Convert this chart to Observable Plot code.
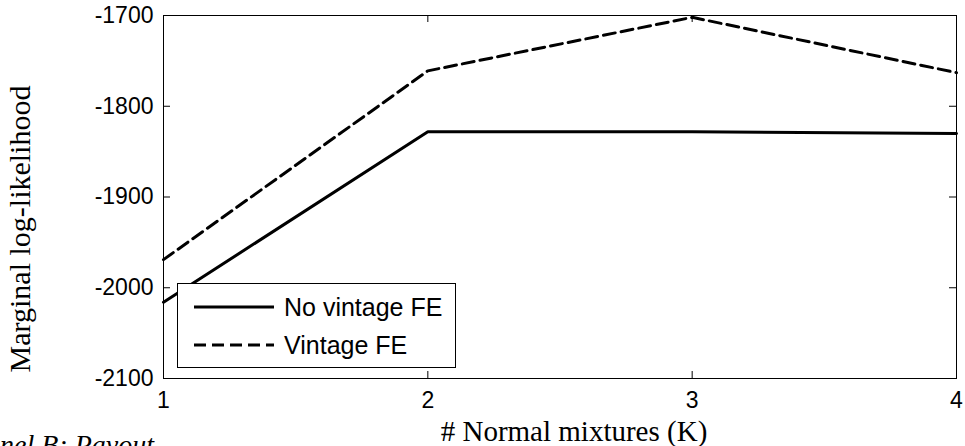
<!DOCTYPE html>
<html>
<head>
<meta charset="utf-8">
<script src="https://cdn.jsdelivr.net/npm/d3@7"></script>
<script src="https://cdn.jsdelivr.net/npm/@observablehq/plot@0.6"></script>
<style>
  html, body { margin: 0; padding: 0; background: white; }
  #wrap { position: relative; width: 965px; height: 446px; overflow: hidden; }
  #legend { position: absolute; left: 177px; top: 283px; width: 277px; height: 83px;
    border: 1.5px solid black; background: white; font-family: "Liberation Sans", Arial, sans-serif; font-size: 25px; }
  .row { position: absolute; left: 0; height: 30px; display: flex; align-items: center; }
  .row svg { margin-left: 16px; margin-right: 10px; }
  #caption { position: absolute; left: -31px; top: 429px; font-family: "Liberation Serif", "Times New Roman", serif;
    font-style: italic; font-size: 28px; white-space: nowrap; }
</style>
</head>
<body>
<div id="wrap"></div>
<script>
const mixturesK = [1, 2, 3, 4];
const noVintageFE = [-2016, -1828, -1828, -1830];
const vintageFE = [-1969, -1761, -1702, -1763];
const seriesNames = ["No vintage FE", "Vintage FE"];
const yTicks = [-2100, -2000, -1900, -1800, -1700];
const xTicks = [1, 2, 3, 4];

const data = [
  ...mixturesK.map((k, i) => ({k, v: noVintageFE[i], s: seriesNames[0]})),
  ...mixturesK.map((k, i) => ({k, v: vintageFE[i], s: seriesNames[1]}))
];

const W = 965, H = 446, mL = 163, mR = 9, mT = 15, mB = 68;
const pw = W - mL - mR, ph = H - mT - mB, tl = 7;
const dashPattern = "12,6";

const chart = Plot.plot({
  width: W, height: H,
  marginLeft: mL, marginRight: mR, marginTop: mT, marginBottom: mB,
  style: {fontFamily: "Liberation Sans, Arial, sans-serif", fontSize: "23px", color: "black", background: "white"},
  x: {domain: [1, 4]},
  y: {domain: [-2100, -1700]},
  marks: [
    Plot.axisY(yTicks, {tickSize: 0, tickPadding: 10, tickFormat: d => `${d}`, label: null, fontSize: 23}),
    Plot.axisX(xTicks, {tickSize: 0, tickPadding: 13, tickFormat: d => `${d}`, label: null, fontSize: 23}),
    Plot.ruleY(yTicks, {stroke: "black", insetRight: pw - tl}),
    Plot.ruleY(yTicks, {stroke: "black", insetLeft: pw - tl}),
    Plot.ruleX(xTicks, {stroke: "black", insetBottom: ph - tl}),
    Plot.ruleX(xTicks, {stroke: "black", insetTop: ph - tl}),
    Plot.line(data.filter(d => d.s === seriesNames[0]), {x: "k", y: "v", stroke: "black", strokeWidth: 3, strokeLinejoin: "miter"}),
    Plot.line(data.filter(d => d.s === seriesNames[1]), {x: "k", y: "v", stroke: "black", strokeWidth: 3, strokeDasharray: dashPattern, strokeLinejoin: "miter"}),
    Plot.frame({stroke: "black", strokeWidth: 1}),
    Plot.text(["Marginal log-likelihood"], {frameAnchor: "left", text: d => d, rotate: -90, dx: -143, dy: 32,
      textAnchor: "middle", lineAnchor: "middle",
      fontFamily: "Liberation Serif, Times New Roman, serif", fontSize: 30}),
    Plot.text(["# Normal mixtures (K)"], {frameAnchor: "bottom", text: d => d, dy: 53, dx: 14,
      textAnchor: "middle", lineAnchor: "middle",
      fontFamily: "Liberation Serif, Times New Roman, serif", fontSize: 29})
  ]
});
const wrap = document.getElementById("wrap");
wrap.appendChild(chart);

const legend = document.createElement("div");
legend.id = "legend";
const dashes = ["", dashPattern];
seriesNames.forEach((name, i) => {
  const row = document.createElement("div");
  row.className = "row";
  row.style.top = (8 + i * 38) + "px";
  row.innerHTML = `<svg width="80" height="10"><line x1="0" y1="5" x2="80" y2="5" stroke="black" stroke-width="3" ${dashes[i] ? `stroke-dasharray="${dashes[i]}"` : ""}/></svg><span>${name}</span>`;
  legend.appendChild(row);
});
wrap.appendChild(legend);

const cap = document.createElement("div");
cap.id = "caption";
cap.textContent = "Panel B: Payout";
wrap.appendChild(cap);
</script>
</body>
</html>
